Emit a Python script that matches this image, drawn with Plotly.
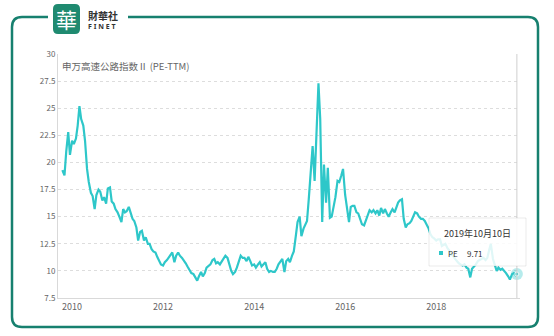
import pandas as pd
import plotly.graph_objects as go

# ---- data (semi-monthly samples, last point = 2019-10-10) ----
pe_2009 = [19.3, 18.8, 21.0, 22.8, 20.7]
pe_2010 = [22.0, 21.7, 22.2, 23.4, 25.2, 24.0, 23.4, 22.0, 19.4, 18.2, 17.2, 16.9,
           15.7, 17.0, 17.5, 17.3, 16.5, 16.8, 16.2, 17.6, 17.7, 16.4, 16.2, 15.7]
pe_2011 = [15.4, 15.0, 14.5, 15.7, 15.4, 15.5, 15.9, 15.4, 14.8, 14.6, 14.0, 12.8,
           13.6, 13.7, 12.8, 13.1, 12.5, 12.5, 12.0, 11.8, 11.7, 11.3, 10.9, 10.6]
pe_2012 = [10.5, 10.8, 11.0, 11.2, 11.5, 11.7, 10.8, 11.4, 11.7, 11.4, 11.2, 11.0,
           10.7, 10.4, 10.1, 9.8, 9.7, 9.4, 9.1, 9.5, 9.9, 9.5, 9.8, 10.3]
pe_2013 = [10.5, 10.6, 11.0, 11.1, 10.7, 10.8, 10.6, 10.9, 11.2, 11.4, 11.2, 10.6,
           10.0, 9.7, 9.9, 10.3, 11.0, 11.4, 11.2, 11.2, 10.9, 11.3, 10.9, 10.5]
pe_2014 = [10.6, 10.3, 10.6, 10.8, 10.4, 10.6, 10.8, 10.2, 9.9, 10.0, 9.9, 9.9,
           10.2, 10.6, 10.9, 11.1, 9.9, 10.9, 11.1, 10.8, 11.4, 11.8, 13.2, 14.5]
pe_2015 = [15.0, 13.2, 13.9, 14.2, 14.6, 16.6, 19.8, 21.5, 18.3, 22.3, 27.3, 24.0,
           14.5, 19.8, 16.3, 19.5, 14.9, 15.0, 15.8, 16.8, 18.3, 18.2, 18.8, 19.4]
pe_2016 = [17.0, 15.7, 14.5, 15.9, 16.0, 16.0, 15.4, 15.3, 14.8, 14.3, 14.2, 14.7,
           15.3, 15.6, 15.4, 15.6, 15.3, 15.6, 15.1, 15.8, 15.3, 15.7, 15.3, 15.0]
pe_2017 = [15.4, 15.7, 15.4, 15.9, 16.3, 16.5, 16.6, 14.8, 14.0, 14.3, 14.4, 14.6,
           15.1, 15.4, 15.3, 15.0, 14.8, 14.8, 14.6, 14.3, 13.9, 13.4, 13.1, 13.0]
pe_2018 = [12.8, 12.9, 12.9, 12.3, 12.4, 12.5, 12.1, 11.9, 11.5, 11.4, 11.1, 10.9,
           10.7, 10.6, 10.5, 10.6, 10.3, 10.2, 9.4, 10.2, 10.4, 10.6, 10.9, 11.0]
pe_2019 = [11.1, 11.2, 11.0, 11.2, 11.9, 12.5, 11.1, 10.5, 10.0, 10.3, 10.1, 10.2,
           10.0, 9.8, 9.5, 9.2, 9.7, 9.8, 9.6, 9.71]

pe_values = (pe_2009 + pe_2010 + pe_2011 + pe_2012 + pe_2013 + pe_2014 + pe_2015
             + pe_2016 + pe_2017 + pe_2018 + pe_2019)
dates = list(pd.date_range("2009-10-15", "2019-10-01", freq="SMS")) + [pd.Timestamp("2019-10-10")]

x_tick_vals = ["2010-01-01", "2012-01-01", "2014-01-01", "2016-01-01", "2018-01-01"]
x_tick_text = ["2010", "2012", "2014", "2016", "2018"]
y_tick_vals = [7.5, 10, 12.5, 15, 17.5, 20, 22.5, 25, 27.5, 30]
y_tick_text = ["7.5", "10", "12.5", "15", "17.5", "20", "22.5", "25", "27.5", "30"]

chart_title = "申万高速公路指数Ⅱ (PE-TTM)"
tip_date = "2019年10月10日"
tip_name = "PE"
tip_value = "9.71"

LINE = "#2ec7c9"
W, H = 554, 336
L, R, T, B = 58, 520, 54, 298   # plot area in pixels


def px(x):
    return (x - L) / (R - L)


def py(y):
    return (B - y) / (B - T)


fig = go.Figure()
fig.add_trace(go.Scatter(x=dates, y=pe_values, mode="lines",
                         line=dict(color=LINE, width=2.2), hoverinfo="skip"))
# hover highlight on the last point
fig.add_trace(go.Scatter(x=[dates[-1]], y=[pe_values[-1]], mode="markers",
                         marker=dict(size=12, color="rgba(46,199,201,0.35)"),
                         cliponaxis=False, hoverinfo="skip"))
fig.add_trace(go.Scatter(x=[dates[-1]], y=[pe_values[-1]], mode="markers",
                         marker=dict(size=4, color=LINE, line=dict(color="white", width=1)),
                         cliponaxis=False, hoverinfo="skip"))

font_fam = "Noto Sans CJK SC, Noto Sans, sans-serif"

shapes = []
# outer frame with a gap for the logo
frame = (f"M {px(48)},{py(17)} L {px(22)},{py(17)} Q {px(12)},{py(17)} {px(12)},{py(27)} "
         f"L {px(12)},{py(317)} Q {px(12)},{py(327)} {px(22)},{py(327)} "
         f"L {px(528)},{py(327)} Q {px(538)},{py(327)} {px(538)},{py(317)} "
         f"L {px(538)},{py(27)} Q {px(538)},{py(17)} {px(528)},{py(17)} L {px(128)},{py(17)}")
shapes.append(dict(type="path", xref="paper", yref="paper", path=frame,
                   line=dict(color="#17806f", width=2.5), layer="below"))
# logo square
logo = (f"M {px(58)},{py(4)} L {px(75)},{py(4)} Q {px(80)},{py(4)} {px(80)},{py(9)} "
        f"L {px(80)},{py(29)} Q {px(80)},{py(34)} {px(75)},{py(34)} L {px(58)},{py(34)} "
        f"Q {px(53)},{py(34)} {px(53)},{py(29)} L {px(53)},{py(9)} Q {px(53)},{py(4)} {px(58)},{py(4)} Z")
shapes.append(dict(type="path", xref="paper", yref="paper", path=logo,
                   fillcolor="#1f8a70", line=dict(width=0), layer="below"))
# crosshair
shapes.append(dict(type="line", xref="x", yref="paper", x0=dates[-1], x1=dates[-1],
                   y0=0, y1=1, line=dict(color="#cfcfcf", width=1), layer="above"))
# tooltip box
shapes.append(dict(type="rect", xref="paper", yref="paper",
                   x0=px(429), x1=px(526), y0=py(266), y1=py(218),
                   fillcolor="rgba(255,255,255,0.85)",
                   line=dict(color="rgba(0,0,0,0.08)", width=1), layer="above"))
shapes.append(dict(type="rect", xref="paper", yref="paper",
                   x0=px(439), x1=px(443), y0=py(255), y1=py(251),
                   fillcolor=LINE, line=dict(width=0), layer="above"))

annotations = [
    dict(text=chart_title, x=px(60), y=py(66), xref="paper", yref="paper",
         xanchor="left", yanchor="middle", showarrow=False,
         font=dict(size=9.5, color="#666666", family=font_fam)),
    dict(text="華", x=px(66.5), y=py(19), xref="paper", yref="paper",
         xanchor="center", yanchor="middle", showarrow=False,
         font=dict(size=21, color="white", family="Noto Sans CJK TC")),
    dict(text="<b>財華社</b>", x=px(86), y=py(16), xref="paper", yref="paper",
         xanchor="left", yanchor="middle", showarrow=False,
         font=dict(size=10, color="#333333", family="Noto Sans CJK TC")),
    dict(text="<b>F I N E T</b>", x=px(86), y=py(26), xref="paper", yref="paper",
         xanchor="left", yanchor="middle", showarrow=False,
         font=dict(size=7, color="#333333", family="Noto Sans, sans-serif")),
    dict(text=tip_date, x=px(477), y=py(233), xref="paper", yref="paper",
         xanchor="center", yanchor="middle", showarrow=False,
         font=dict(size=9, color="#333333", family=font_fam)),
    dict(text=tip_name, x=px(446), y=py(253), xref="paper", yref="paper",
         xanchor="left", yanchor="middle", showarrow=False,
         font=dict(size=8, color="#333333", family=font_fam)),
    dict(text=tip_value, x=px(465), y=py(253), xref="paper", yref="paper",
         xanchor="left", yanchor="middle", showarrow=False,
         font=dict(size=8, color="#333333", family=font_fam)),
]

fig.update_layout(
    width=W, height=H,
    margin=dict(l=L, r=W - R, t=T, b=H - B, pad=0),
    paper_bgcolor="white", plot_bgcolor="white",
    showlegend=False,
    shapes=shapes, annotations=annotations,
    xaxis=dict(type="date", range=["2009-09-10", "2019-11-04"],
               tickvals=x_tick_vals, ticktext=x_tick_text,
               showgrid=False, zeroline=False,
               showline=True, linecolor="#d9d9d9", linewidth=1,
               ticks="", tickfont=dict(size=9, color="#666666", family=font_fam)),
    yaxis=dict(range=[7.5, 30], tickvals=y_tick_vals, ticktext=y_tick_text,
               showgrid=True, gridcolor="#dddddd", griddash="dot", gridwidth=1,
               zeroline=False, showline=True, linecolor="#d9d9d9", linewidth=1,
               ticks="", tickfont=dict(size=8, color="#666666", family=font_fam)),
)

fig.write_html("out.html")
